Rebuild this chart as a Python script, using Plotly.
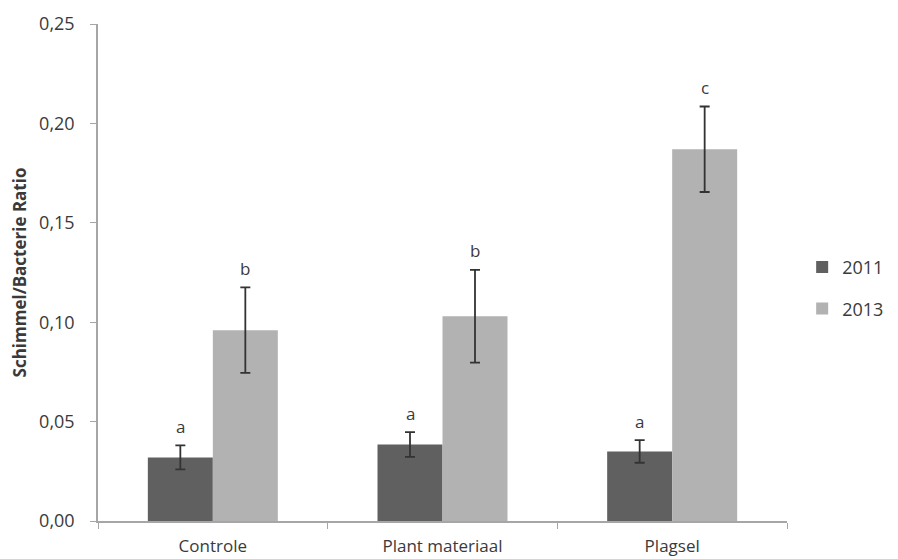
import plotly.graph_objects as go

categories = ["Controle", "Plant materiaal", "Plagsel"]
years = ["2011", "2013"]
values_2011 = [0.032, 0.0385, 0.035]
values_2013 = [0.096, 0.103, 0.187]
err_2011 = [0.006, 0.0062, 0.0057]
err_2013 = [0.0215, 0.0233, 0.0215]
letters_2011 = ["a", "a", "a"]
letters_2013 = ["b", "b", "c"]
y_ticks = [0.0, 0.05, 0.10, 0.15, 0.20, 0.25]

FONT = "Open Sans, Lato, sans-serif"
TXT = "#3a3a3a"
AXIS = "#a6a6a6"
colors = ["#606060", "#b2b2b2"]
bw = 0.283

fig = go.Figure()
for k, (vals, errs) in enumerate([(values_2011, err_2011), (values_2013, err_2013)]):
    fig.add_trace(go.Bar(
        x=categories, y=vals, name=years[k],
        width=bw, offset=-bw if k == 0 else 0,
        marker=dict(color=colors[k], line=dict(width=0)),
        error_y=dict(type="data", array=errs, visible=True,
                     color="#333333", thickness=1.8, width=5),
        legendgroup=years[k],
    ))

for k, (vals, errs, lets) in enumerate([(values_2011, err_2011, letters_2011),
                                        (values_2013, err_2013, letters_2013)]):
    for i in range(len(categories)):
        fig.add_annotation(
            x=i + (-bw / 2 if k == 0 else bw / 2), y=vals[i] + errs[i],
            xref="x", yref="y", text=lets[i], showarrow=False,
            yanchor="middle", yshift=19,
            font=dict(family=FONT, size=17, color=TXT),
        )

fig.update_layout(
    template="none",
    width=890, height=551,
    margin=dict(l=90, r=111, t=16, b=38, autoexpand=False),
    plot_bgcolor="white", paper_bgcolor="white",
    separators=",.",
    barmode="group",
    font=dict(family=FONT, size=18, color=TXT),
    showlegend=True,
    legend=dict(x=1.022, y=0.469, xanchor="left", yanchor="middle",
                font=dict(family=FONT, size=18, color=TXT),
                tracegroupgap=15, itemwidth=30,
                bgcolor="rgba(0,0,0,0)", borderwidth=0),
    yaxis=dict(range=[0, 0.25], tickvals=y_ticks, tickformat=".2f",
               automargin=False,
               showgrid=False, zeroline=False,
               showline=True, linecolor=AXIS, linewidth=1.5,
               ticks="outside", ticklen=6, tickcolor=AXIS, tickwidth=1,
               ticklabelstandoff=12,
               tickfont=dict(family=FONT, size=18, color=TXT),
               title=dict(text="<b>Schimmel/Bacterie Ratio</b>",
                          font=dict(family=FONT, size=17, color=TXT),
                          standoff=10)),
    xaxis=dict(automargin=False,
               showgrid=False, zeroline=False,
               showline=True, linecolor=AXIS, linewidth=1.5,
               ticks="outside", ticklen=6, tickcolor=AXIS, tickwidth=1,
               tickson="boundaries", ticklabelstandoff=9,
               tickfont=dict(family=FONT, size=17, color=TXT),
               range=[-0.5, 2.5]),
)

fig.write_html("out.html")
